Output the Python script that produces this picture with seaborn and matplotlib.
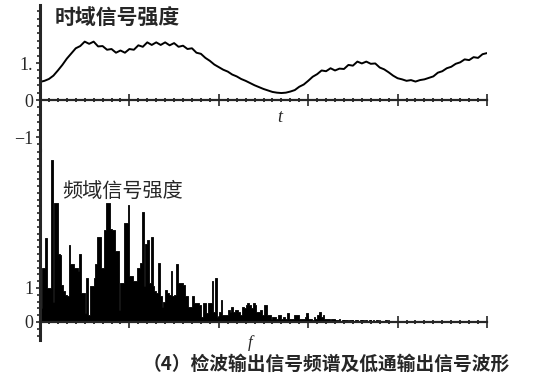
import numpy as np
import matplotlib
matplotlib.use("Agg")
import matplotlib.pyplot as plt
import seaborn as sns
from matplotlib.ticker import MultipleLocator

# Time-domain signal after the low-pass filter, sampled every t_step
t_step = 0.05
signal = [
    0.49, 0.52, 0.57, 0.66, 0.80, 0.95, 1.12, 1.26, 1.40, 1.46,
    1.58, 1.52, 1.58, 1.45, 1.46, 1.36, 1.38, 1.28, 1.34, 1.28,
    1.38, 1.36, 1.48, 1.44, 1.56, 1.49, 1.56, 1.49, 1.56, 1.48,
    1.54, 1.44, 1.47, 1.38, 1.40, 1.28, 1.25, 1.14, 1.06, 0.96,
    0.89, 0.82, 0.77, 0.69, 0.64, 0.57, 0.52, 0.46, 0.40, 0.35,
    0.30, 0.26, 0.22, 0.20, 0.19, 0.20, 0.23, 0.27, 0.36, 0.42,
    0.52, 0.63, 0.70, 0.80, 0.78, 0.86, 0.80, 0.85, 0.84, 0.95,
    0.93, 1.04, 0.99, 1.04, 0.98, 0.99, 0.88, 0.83, 0.75, 0.66,
    0.59, 0.56, 0.52, 0.54, 0.50, 0.54, 0.56, 0.60, 0.64, 0.74,
    0.78, 0.86, 0.90, 0.98, 1.02, 1.10, 1.08, 1.16, 1.14, 1.24,
    1.27,
]

# Detector output spectrum, one amplitude per frequency bin of width f_step
f_step = 0.02
spectrum = [
    0.40, 1.58, 1.58, 2.46, 1.00, 1.00, 4.76, 0.60, 3.50, 3.50,
    2.00, 1.97, 1.10, 0.90, 0.80, 0.75, 2.26, 1.70, 1.70, 1.60,
    1.60, 1.50, 2.00, 0.85, 0.85, 0.25, 1.30, 0.20, 1.05, 1.05,
    1.30, 1.70, 2.50, 2.50, 1.60, 1.60, 2.70, 3.50, 3.50, 2.75,
    2.70, 2.70, 2.10, 2.10, 0.35, 1.15, 1.15, 2.90, 2.90, 3.45,
    1.35, 1.35, 1.20, 1.20, 1.60, 1.60, 1.75, 3.25, 1.05, 2.30,
    2.40, 1.15, 2.50, 1.05, 0.90, 0.85, 1.75, 0.75, 0.45, 0.60,
    0.95, 0.85, 0.80, 1.50, 0.75, 0.80, 1.70, 1.15, 1.15, 1.15,
    1.10, 0.75, 0.75, 0.45, 0.45, 0.75, 0.55, 0.55, 0.55, 0.50,
    0.15, 0.55, 0.55, 0.25, 0.55, 0.55, 1.20, 0.30, 1.30, 0.15,
    0.30, 0.65, 0.20, 0.20, 0.20, 0.35, 0.30, 0.45, 0.30, 0.35,
    0.35, 0.30, 0.20, 0.45, 0.40, 0.50, 0.55, 0.50, 0.40, 0.55,
    0.50, 0.30, 0.30, 0.35, 0.20, 0.50, 0.50, 0.20, 0.20, 0.10,
    0.15, 0.15, 0.10, 0.20, 0.20, 0.10, 0.15, 0.10, 0.25, 0.10,
    0.10, 0.08, 0.20, 0.20, 0.20, 0.10, 0.10, 0.08, 0.15, 0.25,
    0.10, 0.10, 0.06, 0.15, 0.10, 0.20, 0.30, 0.15, 0.20, 0.10,
    0.10, 0.08, 0.06, 0.08, 0.10, 0.06, 0.05, 0.08, 0.04, 0.06,
    0.05, 0.07, 0.04, 0.05, 0.06, 0.04, 0.05, 0.07, 0.04, 0.05,
    0.06, 0.04, 0.05, 0.04, 0.06, 0.04, 0.05, 0.03, 0.05, 0.04,
    0.03, 0.04, 0.03, 0.05, 0.03, 0.04, 0.03, 0.03, 0.04, 0.03,
    0.02, 0.03, 0.02, 0.03, 0.02, 0.02, 0.03, 0.02, 0.02, 0.03,
    0.02, 0.02, 0.03, 0.02, 0.02, 0.02, 0.03, 0.02, 0.02, 0.02,
    0.02, 0.02, 0.02, 0.02, 0.02, 0.02, 0.02, 0.02, 0.02, 0.02,
    0.02, 0.02, 0.02, 0.02, 0.02, 0.02, 0.02, 0.02, 0.02, 0.02,
    0.02, 0.02, 0.02, 0.02, 0.02, 0.02, 0.02, 0.02, 0.02, 0.02,
]

top_ylabels = ["\u22121", "0", "1."]
bottom_ylabels = ["0", "1"]

sns.set_style("ticks")
plt.rcParams["font.family"] = ["Noto Sans CJK SC", "DejaVu Sans"]

W, H = 533, 384
fig = plt.figure(figsize=(W / 100, H / 100), dpi=100)


def box(x0, y0, x1, y1):
    return [x0 / W, 1 - y1 / H, (x1 - x0) / W, (y1 - y0) / H]


ax_t = fig.add_axes(box(40, 5, 487, 150))
ax_f = fig.add_axes(box(40, 150, 487, 340))

t = np.arange(len(signal)) * t_step
sns.lineplot(x=t, y=signal, ax=ax_t, color="black", linewidth=1.4)
ax_t.set_xlim(0, 5)
ax_t.set_ylim(-1.35, 2.57)

f = np.arange(len(spectrum)) * f_step + f_step / 2
sns.histplot(x=f, weights=spectrum, binwidth=f_step,
             binrange=(0, len(spectrum) * f_step), ax=ax_f,
             element="step", color="black", alpha=1,
             edgecolor="black", linewidth=0.6)
ax_f.set_xlim(0, 5)
ax_f.set_ylim(-0.53, 5.06)

serif = ["Liberation Serif", "DejaVu Serif"]
for ax in (ax_t, ax_f):
    ax.set_facecolor("none")
    ax.set_xlabel("")
    ax.set_ylabel("")
    ax.spines["top"].set_visible(False)
    ax.spines["right"].set_visible(False)
    ax.spines["bottom"].set_position(("data", 0))
    ax.spines["bottom"].set_linewidth(1.6)
    ax.spines["left"].set_linewidth(2.2)
    ax.xaxis.set_major_locator(MultipleLocator(1))
    ax.xaxis.set_minor_locator(MultipleLocator(0.1))
    ax.yaxis.set_minor_locator(MultipleLocator(0.2))
    ax.tick_params(axis="x", which="major", direction="inout", length=8,
                   width=1.2, labelbottom=False)
    ax.tick_params(axis="x", which="minor", direction="inout", length=3.5,
                   width=1.3)
    ax.tick_params(axis="y", which="major", direction="out", length=3,
                   width=1.2, pad=2, labelsize=13)
    ax.tick_params(axis="y", which="minor", direction="out", length=2,
                   width=1.2)

ax_t.set_yticks([-1, 0, 1], top_ylabels, fontfamily=serif)
ax_f.set_yticks([0, 1], bottom_ylabels, fontfamily=serif)

fig.text(55 / W, 1 - 18 / H, "时域信号强度", fontsize=15, va="center",
         ha="left", weight="bold")
fig.text(62 / W, 1 - 191 / H, "频域信号强度", fontsize=14.5, va="center",
         ha="left")
fig.text(280 / W, 1 - 118 / H, "t", fontsize=13, style="italic",
         family=serif, va="center", ha="center")
fig.text(250 / W, 1 - 343 / H, "f", fontsize=12, style="italic",
         family=serif, va="center", ha="center")
fig.text(143 / W, 1 - 364 / H, "（4）检波输出信号频谱及低通输出信号波形",
         fontsize=13.5, va="center", ha="left", weight="bold")

fig.savefig("out.png", dpi=100)
